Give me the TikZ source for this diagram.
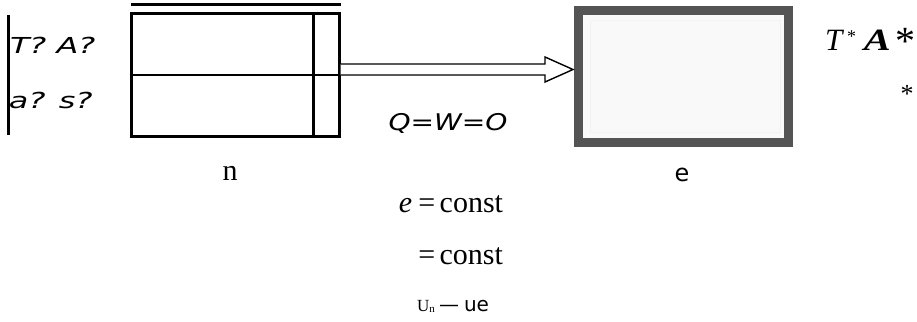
\documentclass[tikz,border=0pt]{standalone}
\usepackage{fontspec}
\usepackage{graphicx}
\setmainfont{Liberation Serif}
\newfontfamily\dejasans{DejaVu Sans}[ItalicFont={DejaVu Sans Oblique},BoldFont={DejaVu Sans Bold}]
\usetikzlibrary{calc}
\definecolor{framegray}{gray}{0.33}
\definecolor{innerwhite}{gray}{0.975}
\begin{document}
\begin{tikzpicture}[x=1pt,y=-1pt]
\useasboundingbox (0,0) rectangle (917,321);
\tikzset{
  heavy/.style={line width=3pt},
  arrowline/.style={line width=1.4pt, fill=white, line join=miter},
  txt/.style={inner sep=0pt, outer sep=0pt},
  wideobl/.style={txt, font=\dejasans\itshape\fontsize{22}{26}\selectfont},
  serifbig/.style={txt, font=\fontsize{30}{34}\selectfont}
}
% left vessel
\draw[heavy] (8,15) coordinate (wtop) -- (8,135) coordinate (wbot);
\node[draw, heavy, minimum width=208pt, minimum height=122pt, inner sep=0pt] (left) at (235,75) {};
\draw[heavy] (131,5) coordinate (lidA) -- (341,5) coordinate (lidB);
\draw[line width=2.6pt] (left.west) -- (left.east);
\draw[heavy] (313,14) coordinate (pA) -- (313,136) coordinate (pB);
% right vessel
\node[draw=framegray, line width=9pt, fill=innerwhite, minimum width=210pt, minimum height=132pt, inner sep=0pt] (right) at (683.5,76.5) {};
\draw[black!5, line width=1pt] (590,21) rectangle (780,132);
% hollow arrow
\coordinate (tip) at (573,69.5);
\draw[arrowline] ($(left.east)+(0,-11)$) -- (545,64) -- (545,57) -- (tip) -- (545,82) -- (545,75) -- (left.east);
% texts
\node[wideobl, anchor=base west] (ta) at (10,54) {\scalebox{1.45}[1]{T? A?}};
\node[wideobl, anchor=base west] (as) at (9,108) {\scalebox{1.45}[1]{a? s?}};
\node[txt, anchor=base, font=\dejasans\itshape\fontsize{23}{27}\selectfont] (qwo) at (448,130) {\scalebox{1.22}[1]{Q=W=O}};
\node[txt, anchor=base, font=\fontsize{30}{34}\selectfont] (ln) at (230,180) {n};
\node[txt, anchor=base, font=\dejasans\fontsize{24}{28}\selectfont] (le) at (682,181) {e};
\node[serifbig, anchor=base east] (ec) at (503,212) {\textit{e}\hspace{0.2em}=\hspace{0.15em}const};
\node[serifbig, anchor=base east] (c2) at (503,264) {=\hspace{0.15em}const};
\node[txt, anchor=base west] (un) at (417,311) {\fontsize{17}{19}\selectfont U\raisebox{-1pt}{\fontsize{11}{12}\selectfont n}\hspace{0.25em}{\dejasans\fontsize{20}{23}\selectfont —\hspace{0.25em}ue}};
\node[txt, anchor=base west, font=\fontsize{31}{36}\selectfont] (tstar) at (825,51) {\textit{T}\hspace{0.1em}\raisebox{8pt}{\fontsize{18}{20}\selectfont *}\hspace{0.25em}\scalebox{1.3}[1]{\textbf{\textit{A}}}\hspace{0.15em}\raisebox{-4pt}{\fontsize{40}{42}\selectfont *}};
\node[txt, font=\fontsize{26}{28}\selectfont] (star) at (907,94) {*};
\end{tikzpicture}
\end{document}
